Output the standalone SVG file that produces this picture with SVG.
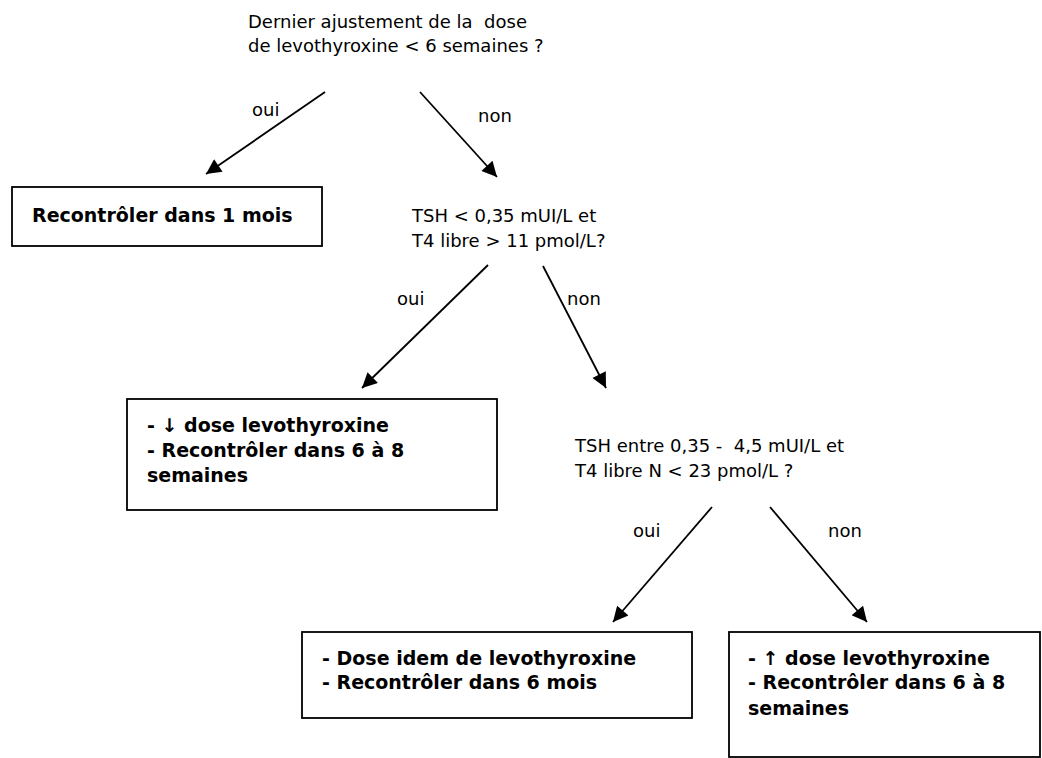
<svg xmlns="http://www.w3.org/2000/svg" width="1042" height="758" viewBox="0 0 1042 758">
<style>
.q{font-family:"DejaVu Sans","Liberation Sans",sans-serif;font-size:18px;fill:#000;white-space:pre}
.b{font-family:"DejaVu Sans","Liberation Sans",sans-serif;font-size:19px;font-weight:bold;fill:#000}
.box{fill:#fff;stroke:#000;stroke-width:1.8}
.ln{stroke:#000;stroke-width:1.8;fill:none;marker-end:url(#ah)}
</style>
<defs>
<marker id="ah" viewBox="0 0 10 10" refX="10" refY="5" markerWidth="20" markerHeight="15" markerUnits="userSpaceOnUse" orient="auto">
<path d="M0,0 L10,5 L0,10 z" fill="#000"/>
</marker>
</defs>
<rect width="1042" height="758" fill="#fff"/>
<g id="q1">
<text class="q" x="248" y="28">Dernier ajustement de la  dose</text>
<text class="q" x="248" y="52">de levothyroxine &lt; 6 semaines ?</text>
</g>
<g id="r1">
<rect class="box" x="12" y="187" width="310" height="59"/>
<text class="b" x="32" y="222">Recontrôler dans 1 mois</text>
</g>
<g id="q2">
<text class="q" x="412" y="222">TSH &lt; 0,35 mUI/L et</text>
<text class="q" x="412" y="247">T4 libre &gt; 11 pmol/L?</text>
</g>
<g id="r2">
<rect class="box" x="127" y="399" width="370" height="111"/>
<text class="b" x="147" y="432">- ↓ dose levothyroxine</text>
<text class="b" x="147" y="457">- Recontrôler dans 6 à 8</text>
<text class="b" x="147" y="482">semaines</text>
</g>
<g id="q3">
<text class="q" x="575" y="452">TSH entre 0,35 -  4,5 mUI/L et</text>
<text class="q" x="575" y="477">T4 libre N &lt; 23 pmol/L ?</text>
</g>
<g id="r3">
<rect class="box" x="302" y="632" width="390" height="86"/>
<text class="b" x="322" y="665">- Dose idem de levothyroxine</text>
<text class="b" x="322" y="689">- Recontrôler dans 6 mois</text>
</g>
<g id="r4">
<rect class="box" x="729" y="632" width="311" height="125"/>
<text class="b" x="748" y="665">- ↑ dose levothyroxine</text>
<text class="b" x="748" y="689">- Recontrôler dans 6 à 8</text>
<text class="b" x="748" y="715">semaines</text>
</g>
<g id="connectors">
<line class="ln" x1="325" y1="92" x2="206" y2="174"/>
<line class="ln" x1="420" y1="92" x2="497" y2="177"/>
<line class="ln" x1="488" y1="265" x2="362" y2="388"/>
<line class="ln" x1="543" y1="266" x2="606" y2="388"/>
<line class="ln" x1="712" y1="507" x2="613" y2="622"/>
<line class="ln" x1="770" y1="507" x2="867" y2="622"/>
<text class="q" x="252" y="116">oui</text>
<text class="q" x="478" y="122">non</text>
<text class="q" x="397" y="305">oui</text>
<text class="q" x="567" y="305">non</text>
<text class="q" x="633" y="537">oui</text>
<text class="q" x="828" y="537">non</text>
</g>
</svg>
